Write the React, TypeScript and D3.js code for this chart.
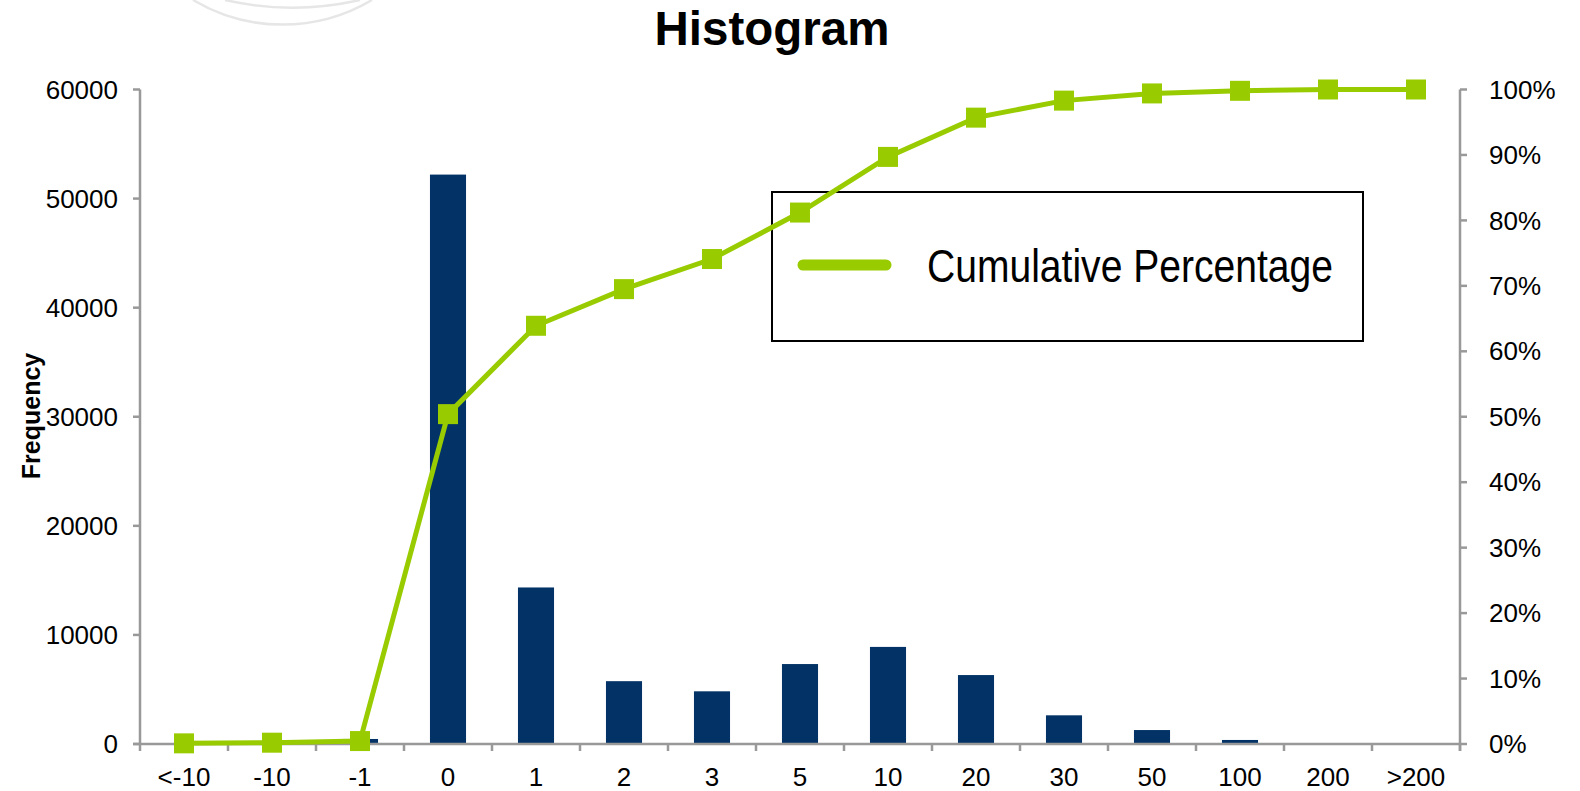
import React from "react";
import * as d3 from "d3";

const categories = ["<-10", "-10", "-1", "0", "1", "2", "3", "5", "10", "20", "30", "50", "100", "200", ">200"];
const frequency = [0, 0, 460, 52200, 14350, 5760, 4830, 7330, 8900, 6320, 2630, 1280, 370, 0, 0];
const cumulative = [0.001, 0.002, 0.0045, 0.504, 0.639, 0.695, 0.741, 0.812, 0.897, 0.957, 0.983, 0.994, 0.998, 1, 1];
const freqTicks = [0, 10000, 20000, 30000, 40000, 50000, 60000];
const pctTicks = [0, 0.1, 0.2, 0.3, 0.4, 0.5, 0.6, 0.7, 0.8, 0.9, 1];

const W = 1580;
const H = 791;
const margin = { top: 89.5, right: 120, bottom: 47, left: 140 };
const font = "'Liberation Sans', Arial, Helvetica, sans-serif";
const axisColor = "#999999";
const barColor = "#033366";
const green = "#99cc00";

export default function App() {
  const x = d3
    .scaleBand<string>()
    .domain(categories)
    .range([margin.left, W - margin.right])
    .padding(0);
  const y = d3.scaleLinear().domain([0, 60000]).range([H - margin.bottom, margin.top]);
  const yp = d3.scaleLinear().domain([0, 1]).range([H - margin.bottom, margin.top]);

  const barW = x.bandwidth() * 0.41;
  const cx = (c: string) => (x(c) ?? 0) + x.bandwidth() / 2;
  const x0 = margin.left;
  const x1 = W - margin.right;
  const yBase = H - margin.bottom;

  const line = d3
    .line<number>()
    .x((_, i) => cx(categories[i]))
    .y((d) => yp(d));

  // tick marks sit on the category boundaries
  const boundaries = categories.map((c) => x(c) ?? 0).concat([x1]);
  const markerSize = 20;

  return (
    <svg
      width={W}
      height={H}
      style={{ position: "absolute", left: 0, top: 0, background: "#fff" }}
      fontFamily={font}
    >
      {/* faint watermark arcs */}
      <g fill="none" stroke="#e6e6e6" strokeWidth={2.5}>
        <path d="M193,0 A175,175 0 0 0 372,0" />
        <path d="M225,0 A305,305 0 0 0 360,0" />
      </g>

      <text x={772} y={45} textAnchor="middle" fontSize={47.5} fontWeight="bold" fill="#000">
        Histogram
      </text>

      {/* bars */}
      {categories.map((c, i) => (
        <rect
          key={c}
          x={cx(c) - barW / 2}
          y={y(frequency[i])}
          width={barW}
          height={yBase - y(frequency[i])}
          fill={barColor}
        />
      ))}

      {/* left axis */}
      <g stroke={axisColor} strokeWidth={2.5}>
        <line x1={x0} x2={x0} y1={margin.top} y2={yBase} />
        {freqTicks.map((t) => (
          <line key={t} x1={x0 - 7} x2={x0} y1={y(t)} y2={y(t)} />
        ))}
      </g>
      {freqTicks.map((t) => (
        <text key={t} x={118} y={y(t)} dy="0.35em" textAnchor="end" fontSize={26} fill="#000">
          {t}
        </text>
      ))}

      {/* right axis */}
      <g stroke={axisColor} strokeWidth={2.5}>
        <line x1={x1} x2={x1} y1={margin.top} y2={yBase + 7} />
        {pctTicks.map((t) => (
          <line key={t} x1={x1} x2={x1 + 7} y1={yp(t)} y2={yp(t)} />
        ))}
      </g>
      {pctTicks.map((t) => (
        <text key={t} x={1489} y={yp(t)} dy="0.35em" textAnchor="start" fontSize={26} fill="#000">
          {d3.format(".0%")(t)}
        </text>
      ))}

      {/* bottom axis */}
      <g stroke={axisColor} strokeWidth={2.5}>
        <line x1={x0 - 7} x2={x1} y1={yBase} y2={yBase} />
        {boundaries.map((b, i) => (
          <line key={i} x1={b} x2={b} y1={yBase} y2={yBase + 7} />
        ))}
      </g>
      {categories.map((c) => (
        <text key={c} x={cx(c)} y={786} textAnchor="middle" fontSize={26} fill="#000">
          {c}
        </text>
      ))}

      <text
        transform={`translate(40,416) rotate(-90)`}
        textAnchor="middle"
        fontSize={25}
        fontWeight="bold"
        fill="#000"
      >
        Frequency
      </text>

      {/* legend box */}
      <rect x={772} y={192} width={591} height={149} fill="none" stroke="#000" strokeWidth={2} />
      <line x1={803} x2={886} y1={265} y2={265} stroke={green} strokeWidth={11} strokeLinecap="round" />
      <text
        x={927}
        y={282}
        fontSize={46}
        fontFamily="'Liberation Sans Narrow', 'Arial Narrow', 'Liberation Sans', sans-serif"
        textLength={406}
        lengthAdjust="spacingAndGlyphs"
        fill="#000"
      >
        Cumulative Percentage
      </text>

      {/* cumulative line */}
      <path d={line(cumulative) ?? ""} fill="none" stroke={green} strokeWidth={5} />
      {cumulative.map((v, i) => (
        <rect
          key={i}
          x={cx(categories[i]) - markerSize / 2}
          y={yp(v) - markerSize / 2}
          width={markerSize}
          height={markerSize}
          fill={green}
        />
      ))}
    </svg>
  );
}
